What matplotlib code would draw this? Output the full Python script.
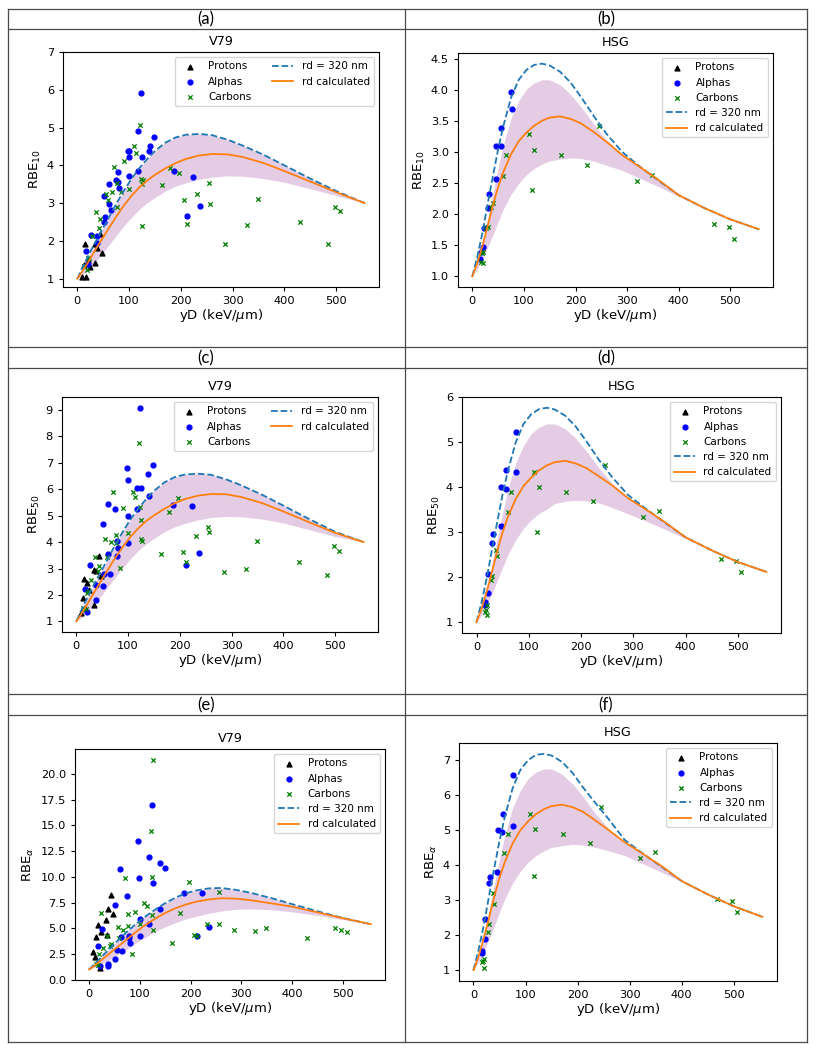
import matplotlib
matplotlib.use("Agg")
import matplotlib.pyplot as plt
from matplotlib.lines import Line2D

# yD grid (keV/um) on which the model curves were read
yd_grid = [0, 10, 20, 30, 40, 50, 60, 75, 90, 105, 120, 135, 150, 170, 190, 210,
           235, 260, 290, 320, 360, 400, 450, 500, 555]

# ---- V79 experimental points ----
v79_p_x = [8, 12, 14, 17, 21, 24, 34, 35, 37, 44, 47]
v79_p_rbe10 = [1.05, 1.35, 1.92, 1.05, 1.5, 1.30, 1.42, 1.93, 1.80, 2.17, 1.69]
v79_p_rbe50 = [1.3, 1.9, 2.6, 1.5, 2.45, 2.2, 1.63, 2.95, 2.92, 3.49, 2.71]
v79_p_rbea = [2.7, 2.2, 4.15, 5.37, 1.1, 4.6, 5.8, 4.4, 6.9, 8.2, 6.4]

v79_a_x = [17, 21, 26, 37, 38, 51, 52, 54, 61, 62, 65, 74, 78, 79, 80,
           97, 99, 100, 100.5, 117, 118, 123, 125, 139, 140, 149, 187, 212, 223, 237]
v79_a_rbe10 = [1.74, 1.38, 2.16, 2.14, 1.94, 3.2, 2.5, 2.62, 3.5, 2.98, 2.82, 3.62, 3.56, 3.82, 3.41,
               4.37, 4.37, 4.23, 3.73, 4.9, 3.86, 5.91, 4.21, 4.37, 4.5, 4.74, 3.85, 2.66, 3.68, 2.93]
v79_a_rbe50 = [2.23, 1.35, 3.15, 2.36, 1.82, 4.69, 2.32, 2.8, 5.44, 3.55, 2.8, 5.26, 3.47, 4.03, 3.78,
               6.8, 6.36, 5.0, 3.96, 6.03, 5.25, 9.09, 6.03, 6.57, 5.73, 6.92, 5.42, 3.15, 5.38, 3.6]
v79_a_rbea = [3.3, 1.3, 4.9, 1.5, 1.37, 7.3, 2.0, 2.86, 10.77, 4.2, 2.8, 8.18, 4.1, 4.3, 3.6,
              13.5, 9.9, 5.9, 4.3, 11.96, 5.4, 16.96, 9.44, 11.3, 6.9, 10.9, 8.4, 4.3, 8.47, 5.1]

v79_c_x = [13, 18, 20, 23, 28, 36, 41, 43, 56, 59, 66, 71, 76, 77, 85, 91, 100, 109, 114, 121,
           123, 124, 125, 126, 163, 179, 196, 206, 212, 232, 255, 256, 286, 327, 349, 430, 485, 497, 507]
v79_c_rbe10 = [1.34, 1.22, 1.54, 1.56, 2.13, 2.76, 2.33, 2.58, 3.24, 3.08, 3.3, 3.96, 2.91, 3.52, 3.3,
               4.12, 3.38, 4.5, 4.32, 5.06, 3.63, 3.5, 2.40, 3.6, 3.49, 3.92, 3.81, 3.07, 2.44, 3.24,
               3.54, 2.98, 1.91, 2.41, 3.12, 2.49, 1.93, 2.91, 2.80]
v79_c_rbe50 = [1.52, 1.45, 2.07, 2.13, 2.58, 3.43, 2.89, 3.11, 4.12, 3.45, 3.99, 5.9, 4.27, 3.97, 3.03,
               5.28, 4.33, 5.9, 5.69, 7.75, 5.34, 4.85, 4.12, 4.06, 3.54, 5.15, 5.67, 3.62, 3.26, 4.23,
               4.58, 4.4, 2.85, 2.97, 4.03, 3.24, 2.77, 3.84, 3.68]
v79_c_rbea = [1.56, 1.47, 2.5, 6.47, 3.08, 4.28, 3.3, 3.5, 5.1, 4.1, 4.86, 9.93, 6.37, 5.2, 2.5,
              6.6, 5.4, 7.5, 7.2, 14.48, 9.96, 6.28, 4.8, 21.4, 3.6, 6.5, 9.54, 4.34, 4.28, 5.4,
              8.57, 5.44, 4.8, 4.76, 5.05, 4.08, 4.99, 4.83, 4.63]

# ---- HSG experimental points (no protons) ----
hsg_a_x = [15.5, 17, 21.4, 22, 30.4, 31.7, 46, 46.6, 55.7, 56, 75, 76.5]
hsg_a_rbe10 = [1.28, 1.4, 1.47, 1.78, 2.11, 2.32, 2.57, 3.1, 3.1, 3.4, 3.98, 3.7]
hsg_a_rbe50 = [1.45, 1.39, 1.66, 2.08, 2.77, 2.96, 3.15, 4.01, 3.97, 4.39, 5.23, 4.34]
hsg_a_rbea = [1.55, 1.5, 1.9, 2.45, 3.49, 3.67, 3.8, 5.0, 4.93, 5.45, 6.57, 5.12]

hsg_c_x = [17, 19, 20.5, 21, 27, 30, 37, 39.5, 59.6, 66, 109.5, 116, 119, 171, 222.8, 245.5,
           319, 349, 467.5, 496.8, 506.5]
hsg_c_rbe10 = [1.23, 1.38, 1.22, 1.4, 1.78, 1.79, 2.12, 2.18, 2.62, 2.96, 3.29, 2.4, 3.04, 2.96,
               2.8, 3.43, 2.54, 2.64, 1.84, 1.8, 1.61]
hsg_c_rbe50 = [1.23, 1.27, 1.16, 1.38, 1.93, 2.02, 2.6, 2.47, 3.46, 3.89, 4.34, 3.0, 4.01, 3.9,
               3.69, 4.5, 3.34, 3.48, 2.41, 2.36, 2.12]
hsg_c_rbea = [1.22, 1.26, 1.05, 1.33, 2.09, 2.31, 3.2, 2.9, 4.34, 4.89, 5.45, 3.69, 5.03, 4.89,
              4.64, 5.66, 4.2, 4.37, 3.04, 2.98, 2.66]

# ---- model curves: rd = 320 nm, rd calculated, band (low / high) ----
a_fixed = [1.0, 1.3, 1.58, 1.85, 2.1, 2.35, 2.6, 2.98, 3.33, 3.65, 3.93, 4.17, 4.38, 4.6, 4.74, 4.81,
           4.83, 4.8, 4.68, 4.52, 4.28, 4.0, 3.65, 3.32, 3.0]
a_calc = [1.0, 1.2, 1.42, 1.65, 1.88, 2.1, 2.32, 2.64, 2.94, 3.2, 3.42, 3.6, 3.75, 3.92, 4.06, 4.17,
          4.26, 4.3, 4.29, 4.22, 4.06, 3.85, 3.57, 3.29, 3.0]
a_low = [1.0, 1.1, 1.22, 1.38, 1.52, 1.7, 1.88, 2.14, 2.4, 2.63, 2.84, 3.01, 3.15, 3.32, 3.45, 3.54,
         3.63, 3.69, 3.72, 3.71, 3.65, 3.55, 3.38, 3.2, 3.0]

c_fixed = [1.0, 1.44, 1.85, 2.24, 2.61, 2.97, 3.34, 3.89, 4.4, 4.87, 5.28, 5.63, 5.94, 6.26, 6.46, 6.56,
           6.59, 6.55, 6.37, 6.14, 5.78, 5.38, 4.87, 4.39, 4.0]
c_calc = [1.0, 1.29, 1.61, 1.95, 2.28, 2.61, 2.93, 3.4, 3.83, 4.21, 4.53, 4.8, 5.01, 5.26, 5.47, 5.63,
          5.76, 5.82, 5.81, 5.7, 5.47, 5.16, 4.75, 4.35, 4.0]
c_low = [1.0, 1.15, 1.32, 1.55, 1.76, 2.02, 2.28, 2.66, 3.04, 3.38, 3.69, 3.93, 4.14, 4.39, 4.58, 4.71,
         4.84, 4.93, 4.97, 4.96, 4.87, 4.72, 4.47, 4.21, 4.0]

e_fixed = [1.0, 1.5, 2.0, 2.5, 3.0, 3.5, 3.98, 4.68, 5.33, 5.93, 6.48, 6.98, 7.45, 7.98, 8.4, 8.67,
           8.88, 8.92, 8.73, 8.43, 7.92, 7.35, 6.65, 6.0, 5.4]
e_calc = [1.0, 1.35, 1.75, 2.15, 2.55, 2.95, 3.35, 3.95, 4.55, 5.12, 5.62, 6.08, 6.5, 6.95, 7.3, 7.58,
          7.8, 7.92, 7.88, 7.72, 7.42, 7.1, 6.55, 5.98, 5.4]
e_low = [1.0, 1.2, 1.42, 1.68, 1.95, 2.25, 2.55, 3.0, 3.5, 3.95, 4.4, 4.8, 5.15, 5.55, 5.9, 6.15,
         6.45, 6.68, 6.85, 6.88, 6.8, 6.6, 6.25, 5.85, 5.4]

b_fixed = [1.0, 1.33, 1.72, 2.18, 2.62, 3.05, 3.42, 3.88, 4.17, 4.33, 4.41, 4.43, 4.4, 4.3, 4.13, 3.9,
           3.59, 3.3, 3.01, 2.8, 2.55, 2.31, 2.1, 1.92, 1.76]
b_calc = [1.0, 1.22, 1.5, 1.82, 2.15, 2.44, 2.68, 2.97, 3.18, 3.32, 3.43, 3.51, 3.56, 3.58, 3.54, 3.47,
          3.33, 3.17, 2.96, 2.79, 2.56, 2.31, 2.1, 1.92, 1.76]
b_high = [1.0, 1.25, 1.55, 1.95, 2.35, 2.75, 3.12, 3.55, 3.83, 4.02, 4.12, 4.17, 4.17, 4.09, 3.94, 3.74,
          3.46, 3.2, 2.97, 2.8, 2.56, 2.31, 2.1, 1.92, 1.76]
b_low = [1.0, 1.12, 1.28, 1.47, 1.67, 1.88, 2.08, 2.32, 2.5, 2.64, 2.74, 2.81, 2.86, 2.89, 2.91, 2.9,
         2.86, 2.79, 2.71, 2.6, 2.45, 2.29, 2.1, 1.92, 1.76]

d_fixed = [1.0, 1.46, 2.0, 2.64, 3.25, 3.85, 4.36, 5.0, 5.41, 5.63, 5.74, 5.77, 5.73, 5.59, 5.35, 5.03,
           4.6, 4.22, 3.83, 3.56, 3.22, 2.89, 2.6, 2.34, 2.12]
d_calc = [1.0, 1.31, 1.7, 2.14, 2.6, 3.0, 3.34, 3.74, 4.03, 4.22, 4.38, 4.49, 4.56, 4.59, 4.53, 4.43,
          4.24, 4.04, 3.76, 3.54, 3.23, 2.89, 2.6, 2.34, 2.12]
d_high = [1.0, 1.35, 1.76, 2.32, 2.88, 3.43, 3.95, 4.54, 4.93, 5.2, 5.34, 5.41, 5.41, 5.3, 5.09, 4.81,
          4.42, 4.08, 3.78, 3.56, 3.23, 2.89, 2.6, 2.34, 2.12]
d_low = [1.0, 1.17, 1.39, 1.65, 1.93, 2.22, 2.5, 2.83, 3.09, 3.28, 3.42, 3.52, 3.64, 3.69, 3.71, 3.7,
         3.65, 3.55, 3.41, 3.27, 3.07, 2.86, 2.6, 2.34, 2.12]

f_fixed = [1.0, 1.59, 2.3, 3.12, 3.92, 4.69, 5.36, 6.18, 6.71, 6.99, 7.14, 7.17, 7.12, 6.94, 6.63, 6.22,
           5.75, 5.3, 4.72, 4.38, 3.96, 3.54, 3.16, 2.82, 2.52]
f_calc = [1.0, 1.4, 1.92, 2.5, 3.1, 3.64, 4.07, 4.61, 4.99, 5.25, 5.45, 5.59, 5.68, 5.72, 5.65, 5.52,
          5.26, 4.99, 4.65, 4.37, 3.98, 3.54, 3.16, 2.82, 2.52]
f_high = [1.0, 1.45, 2.0, 2.72, 3.44, 4.17, 4.84, 5.62, 6.12, 6.47, 6.65, 6.74, 6.74, 6.59, 6.32, 5.96,
          5.45, 5.03, 4.64, 4.38, 3.98, 3.54, 3.16, 2.82, 2.52]
f_low = [1.0, 1.23, 1.53, 1.88, 2.26, 2.65, 3.03, 3.48, 3.82, 4.08, 4.27, 4.4, 4.5, 4.55, 4.59, 4.57,
         4.5, 4.4, 4.27, 4.07, 3.8, 3.52, 3.16, 2.82, 2.52]

W, H = 819, 1050


def px_box(l, t, r, b):
    return [l / W, 1 - b / H, (r - l) / W, (b - t) / H]


def draw_panel(ax, title, ylabel, prot, alph, carb, fixed, calc, low, high, ncol):
    ax.fill_between(yd_grid, low, high, color='purple', alpha=0.2, lw=0)
    hp = ax.scatter(prot[0], prot[1], marker='^', color='black', s=12, label='Protons')
    ha = ax.scatter(alph[0], alph[1], marker='o', color='blue', s=12, label='Alphas')
    hc = ax.scatter(carb[0], carb[1], marker='x', color='green', s=10, linewidths=0.9, label='Carbons')
    hd, = ax.plot(yd_grid, fixed, '--', color='#1f77b4', lw=1.3, label='rd = 320 nm')
    ho, = ax.plot(yd_grid, calc, '-', color='#ff7f0e', lw=1.3, label='rd calculated')
    ax.legend(handles=[hp, ha, hc, hd, ho], loc='upper right', ncol=ncol, fontsize=7.5)
    ax.set_title(title, fontsize=9.2, pad=5)
    ax.set_xlabel('yD (keV/$\\mu$m)', fontsize=9.5, labelpad=1)
    ax.set_ylabel(ylabel, fontsize=9.5, labelpad=3)
    ax.set_xticks([0, 100, 200, 300, 400, 500])
    ax.tick_params(labelsize=8.2, length=3)


fig = plt.figure(figsize=(W / 100, H / 100), dpi=100)

# table borders
border = '#4a4a4a'
for x in [8, 405, 807]:
    fig.add_artist(Line2D([x / W, x / W], [1 - 9 / H, 1 - 1042 / H], transform=fig.transFigure,
                          color=border, lw=0.9))
for y in [9, 29, 347, 368, 694, 715, 1042]:
    fig.add_artist(Line2D([8 / W, 807 / W], [1 - y / H, 1 - y / H], transform=fig.transFigure,
                          color=border, lw=0.9))

headers = ['(a)', '(b)', '(c)', '(d)', '(e)', '(f)']
head_y = [19, 19, 358, 358, 705, 705]
head_x = [206, 606, 206, 606, 206, 606]
for lab, hx, hy in zip(headers, head_x, head_y):
    fig.text(hx / W, 1 - hy / H, lab, ha='center', va='center', fontsize=12, family='Lato')

no_protons = ([], [])

ax = fig.add_axes(px_box(63, 52, 379, 287))
draw_panel(ax, 'V79', 'RBE$_{10}$', (v79_p_x, v79_p_rbe10), (v79_a_x, v79_a_rbe10),
           (v79_c_x, v79_c_rbe10), a_fixed, a_calc, a_low, a_fixed, 2)
ax.set_ylim(0.78, 7.0)

ax = fig.add_axes(px_box(458, 53, 773, 287))
draw_panel(ax, 'HSG', 'RBE$_{10}$', no_protons, (hsg_a_x, hsg_a_rbe10),
           (hsg_c_x, hsg_c_rbe10), b_fixed, b_calc, b_low, b_high, 1)

ax = fig.add_axes(px_box(62, 397, 378, 632))
draw_panel(ax, 'V79', 'RBE$_{50}$', (v79_p_x, v79_p_rbe50), (v79_a_x, v79_a_rbe50),
           (v79_c_x, v79_c_rbe50), c_fixed, c_calc, c_low, c_fixed, 2)

ax = fig.add_axes(px_box(462, 397, 781, 633))
draw_panel(ax, 'HSG', 'RBE$_{50}$', no_protons, (hsg_a_x, hsg_a_rbe50),
           (hsg_c_x, hsg_c_rbe50), d_fixed, d_calc, d_low, d_high, 1)

ax = fig.add_axes(px_box(75, 749, 385, 980))
draw_panel(ax, 'V79', 'RBE$_{\\alpha}$', (v79_p_x, v79_p_rbea), (v79_a_x, v79_a_rbea),
           (v79_c_x, v79_c_rbea), e_fixed, e_calc, e_low, e_fixed, 1)

ax = fig.add_axes(px_box(459, 743, 777, 981))
draw_panel(ax, 'HSG', 'RBE$_{\\alpha}$', no_protons, (hsg_a_x, hsg_a_rbea),
           (hsg_c_x, hsg_c_rbea), f_fixed, f_calc, f_low, f_high, 1)

fig.savefig('out.png', dpi=100)
